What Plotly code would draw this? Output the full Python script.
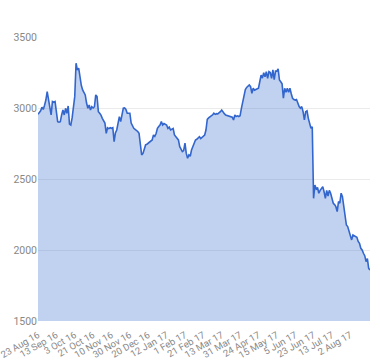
import pandas as pd
import plotly.graph_objects as go

# Trading-day categories (UK calendar), 23 Aug 2016 - 23 Aug 2017
start_date = "2016-08-23"
end_date = "2017-08-23"
holidays = ["2016-08-29", "2016-12-26", "2016-12-27", "2017-01-02",
            "2017-04-14", "2017-04-17", "2017-05-01", "2017-05-29"]
dates = [d.strftime("%Y-%m-%d") for d in
         pd.bdate_range(start_date, end_date, freq="C", holidays=holidays)]

values = [
    2956, 2965, 2980, 3005, 2990, 3020, 3056, 3115, 3056, 2990,
    2951, 3045, 3040, 3045, 2965, 2904, 2900, 2904, 2951, 2986,
    2951, 2998, 2963, 3014, 2887, 2880, 2930, 3009, 3080, 3315,
    3268, 3280, 3197, 3160, 3127, 3110, 3092, 3035, 2998, 3021,
    2986, 3009, 3000, 3009, 3092, 3080, 2974, 2963, 2950, 2927,
    2910, 2894, 2822, 2861, 2855, 2861, 2857, 2861, 2763, 2824,
    2845, 2900, 2939, 2904, 2963, 2998, 3000, 2990, 2963, 2965,
    2963, 2894, 2870, 2857, 2850, 2845, 2835, 2822, 2760, 2669,
    2680, 2710, 2740, 2745, 2752, 2755, 2763, 2775, 2810, 2800,
    2820, 2857, 2870, 2880, 2904, 2880, 2890, 2885, 2880, 2857,
    2865, 2845, 2850, 2855, 2810, 2800, 2785, 2775, 2728, 2710,
    2693, 2700, 2752, 2680, 2646, 2669, 2660, 2704, 2728, 2760,
    2775, 2780, 2790, 2798, 2785, 2795, 2805, 2810, 2845, 2920,
    2930, 2935, 2945, 2951, 2963, 2955, 2960, 2958, 2965, 2974,
    2986, 2970, 2960, 2951, 2948, 2945, 2942, 2939, 2935, 2916,
    2951, 2940, 2945, 2940, 2945, 2998, 3050, 3104, 3130, 3145,
    3157, 3162, 3150, 3104, 3139, 3125, 3130, 3135, 3140, 3185,
    3232, 3210, 3249, 3220, 3256, 3209, 3256, 3250, 3209, 3268,
    3200, 3260, 3260, 3275, 3197, 3185, 3170, 3069, 3139, 3110,
    3139, 3110, 3139, 3100, 3069, 3060, 3056, 3060, 3033, 3010,
    2998, 3010, 2974, 2916, 2974, 2980, 2927, 2880, 2857, 2868,
    2364, 2458, 2430, 2440, 2400, 2420, 2435, 2446, 2410, 2364,
    2420, 2380, 2420, 2400, 2364, 2329, 2320, 2305, 2270, 2341,
    2330, 2400, 2375, 2300, 2259, 2176, 2165, 2130, 2094, 2071,
    2106, 2100, 2100, 2090, 2060, 2047, 2012, 2000, 1977, 1960,
    1918, 1940, 1871, 1860,
]

n = min(len(dates), len(values))
dates = dates[:n]
values = values[:n]

tick_step = 14
tick_vals = dates[::tick_step][:18]
tick_text = [pd.Timestamp(d).strftime("%-d %b %y") for d in tick_vals]

y_ticks = [1500, 2000, 2500, 3000, 3500]

fig = go.Figure()
fig.add_trace(go.Scatter(
    x=dates, y=values, mode="lines",
    line=dict(color="#3366cc", width=1.6),
    fill="tozeroy", fillcolor="rgba(51,102,204,0.30)",
    hoverinfo="x+y",
))

fig.update_layout(
    width=380, height=360,
    margin=dict(l=38, r=10, t=37, b=39),
    paper_bgcolor="white", plot_bgcolor="white",
    showlegend=False,
    font=dict(family="Roboto, Arial, sans-serif", size=10, color="#888"),
    xaxis=dict(
        type="category", range=[0, n - 1], automargin=False,
        tickmode="array", tickvals=tick_vals, ticktext=tick_text,
        tickangle=-30, showgrid=False, zeroline=False, showline=False,
        ticks="outside", ticklen=4, tickcolor="rgba(0,0,0,0)",
        tickfont=dict(size=9.5, color="#888"),
    ),
    yaxis=dict(
        range=[1500, 3500], tickvals=y_ticks, automargin=False,
        showgrid=True, gridcolor="#ebebeb", gridwidth=1,
        zeroline=False, showline=False, ticks="",
        tickfont=dict(size=10.5, color="#888"),
    ),
)

fig.write_html("out.html",
               config={"displayModeBar": False},
               post_script="document.body.style.margin='0';"
                           "document.body.style.padding='0';")
